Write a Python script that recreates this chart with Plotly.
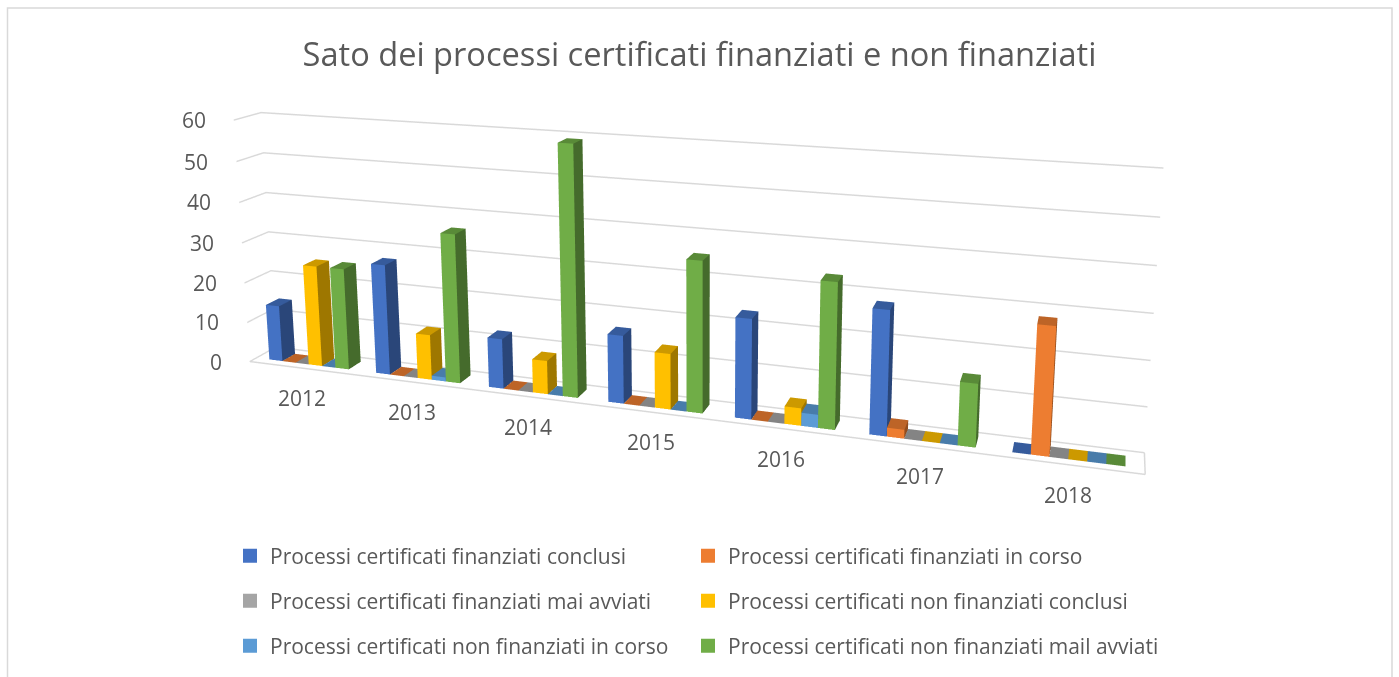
import plotly.graph_objects as go

YEARS = ["2012", "2013", "2014", "2015", "2016", "2017", "2018"]
SERIES = ["Processi certificati finanziati conclusi", "Processi certificati finanziati in corso",
          "Processi certificati finanziati mai avviati", "Processi certificati non finanziati conclusi",
          "Processi certificati non finanziati in corso", "Processi certificati non finanziati mail avviati"]
fin_conclusi = [14, 27, 12, 16, 23, 28, 0]
fin_corso = [0, 0, 0, 0, 0, 2, 28]
fin_mai = [0, 0, 0, 0, 0, 0, 0]
non_conclusi = [25, 11, 8, 13, 4, 0, 0]
non_corso = [0, 1, 0, 0, 3, 0, 0]
non_mai = [25, 36, 59, 35, 33, 14, 0]
VALUES = [fin_conclusi, fin_corso, fin_mai, non_conclusi, non_corso, non_mai]
ZTICKS = [0, 10, 20, 30, 40, 50, 60]
COLORS = ["#4472C4", "#ED7D31", "#A5A5A5", "#FFC000", "#5B9BD5", "#70AD47"]
LEGEND_IDS = ["legend", "legend2", "legend3", "legend4", "legend5", "legend6"]
TEXT = "#595959"
FONT = "Open Sans"
W = 0.125
Y0, Y1 = 0.25, 0.75
FIG_H = 1100
TOP_OFF = 423

def py(y):
    return 1 - (y + TOP_OFF) / FIG_H

def shade(c, f):
    r, g, b = int(c[1:3], 16), int(c[3:5], 16), int(c[5:7], 16)
    return "rgb(%d,%d,%d)" % (r * f, g * f, b * f)

fig = go.Figure()
for s, (name, vals, col, leg) in enumerate(zip(SERIES, VALUES, COLORS, LEGEND_IDS)):
    xs, ys, zs, I, J, K, fc = [], [], [], [], [], [], []
    for yi, v in enumerate(vals):
        x0 = yi + (s - 3) * W
        x1 = x0 + W
        n = len(xs)
        for z in (0, v):
            for (a, b) in ((x0, Y0), (x1, Y0), (x1, Y1), (x0, Y1)):
                xs.append(a); ys.append(b); zs.append(z)
        faces = [((0, 1, 5), 1.0), ((0, 5, 4), 1.0),
                 ((1, 2, 6), 0.62), ((1, 6, 5), 0.62),
                 ((4, 5, 6), 0.8), ((4, 6, 7), 0.8)]
        for (a, b, c), f in faces:
            I.append(n + a); J.append(n + b); K.append(n + c); fc.append(shade(col, f))
    fig.add_trace(go.Mesh3d(x=xs, y=ys, z=zs, i=I, j=J, k=K, facecolor=fc, flatshading=True,
                            lighting=dict(ambient=1, diffuse=0, specular=0, roughness=1, fresnel=0),
                            hoverinfo="skip", showlegend=False, name=name))
    fig.add_trace(go.Scatter(x=[None], y=[None], mode="markers", name=name, legend=leg,
                             marker=dict(symbol="square", size=14, color=col)))

axis_common = dict(showbackground=False, showspikes=False, title=dict(text=""), zeroline=False,
                   showticklabels=False, ticks="")
annots = [dict(x=i, y=0, z=0, text=t, showarrow=False, yshift=-30, xanchor="center", yanchor="middle",
               font=dict(size=21, family=FONT, color=TEXT)) for i, t in enumerate(YEARS)]
annots += [dict(x=-0.5, y=0, z=v, text=str(v), showarrow=False, xshift=-26, xanchor="right", yanchor="middle",
                font=dict(size=21, family=FONT, color=TEXT)) for v in ZTICKS]

legend_common = dict(orientation="v", xanchor="left", yanchor="middle",
                     itemsizing="trace", font=dict(size=21, family=FONT, color=TEXT),
                     bgcolor="rgba(0,0,0,0)", borderwidth=0, itemclick=False, itemdoubleclick=False)
LEG_X = [230, 688]
LEG_Y = [556, 601, 646]
legends = {}
for s, leg in enumerate(LEGEND_IDS):
    legends[leg] = dict(legend_common, x=LEG_X[s % 2] / 1399, y=py(LEG_Y[s // 2]))

fig.update_layout(
    width=1399, height=FIG_H, margin=dict(l=0, r=0, t=0, b=0),
    paper_bgcolor="white", plot_bgcolor="white",
    font=dict(family=FONT, color=TEXT, size=18),
    title=dict(text="Sato dei processi certificati finanziati e non finanziati",
               x=0.5, xanchor="center", y=py(55), yanchor="middle",
               font=dict(size=32.6, family=FONT, color=TEXT)),
    xaxis=dict(visible=False), yaxis=dict(visible=False),
    scene=dict(
        domain=dict(x=[0, 1], y=[0, 1]),
        aspectmode="manual", aspectratio=dict(x=4.33, y=0.22, z=1.25),
        xaxis=dict(axis_common, range=[-0.5, 6.5], tickvals=list(range(7)), ticktext=YEARS,
                   showgrid=False, showline=True, linecolor="#d9d9d9", linewidth=3),
        yaxis=dict(axis_common, range=[0, 1], showgrid=False, showline=True, linecolor="#d9d9d9", linewidth=3),
        zaxis=dict(axis_common, range=[0, 60], tickvals=ZTICKS, showgrid=True,
                   gridcolor="#d9d9d9", gridwidth=3, showline=False),
        camera=dict(eye=dict(x=1.94, y=-5.55, z=1.81), up=dict(x=0, y=0, z=1),
                    center=dict(x=0.20, y=0, z=0.705),
                    projection=dict(type="perspective")),
        annotations=annots,
    ),
    showlegend=True,
    shapes=[dict(type="rect", xref="paper", yref="paper", x0=7.5 / 1399, x1=1392 / 1399, y0=py(700), y1=py(8),
                 line=dict(color="#d9d9d9", width=1.5), fillcolor="rgba(0,0,0,0)")],
)
fig.update_layout(**legends)
post = ("document.body.style.margin='0';document.body.style.overflow='hidden';"
        "document.getElementById('{plot_id}').style.marginTop='-%dpx';" % TOP_OFF)
fig.write_html("out.html", post_script=post, config=dict(displayModeBar=False))
